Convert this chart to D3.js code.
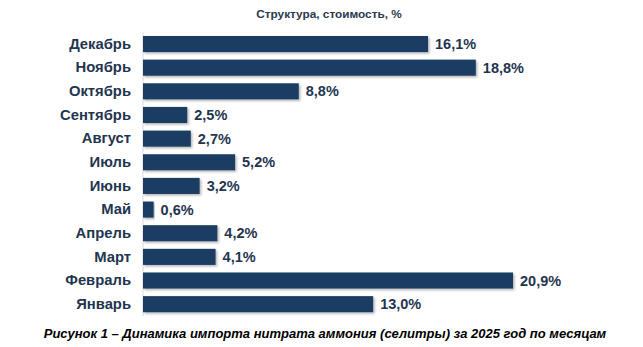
<!DOCTYPE html>
<html><head><meta charset="utf-8">
<script src="https://cdn.jsdelivr.net/npm/d3@7"></script>
<style>body{margin:0;background:#fff}svg{display:block}</style>
</head><body>
<script>
const months = ["Декабрь","Ноябрь","Октябрь","Сентябрь","Август","Июль","Июнь","Май","Апрель","Март","Февраль","Январь"];
const values = [16.1,18.8,8.8,2.5,2.7,5.2,3.2,0.6,4.2,4.1,20.9,13.0];
const title = "Структура, стоимость, %";
const caption = "Рисунок 1 – Динамика импорта нитрата аммония (селитры) за 2025 год по месяцам";

const W=643,H=347;
const svg=d3.select("body").append("svg").attr("width",W).attr("height",H);
const defs=svg.append("defs");
const f=defs.append("filter").attr("id","sh").attr("x","-5%").attr("y","-20%").attr("width","115%").attr("height","160%");
f.append("feDropShadow").attr("dx",1.5).attr("dy",1.5).attr("stdDeviation",1).attr("flood-color","#000").attr("flood-opacity",0.3);

const x=d3.scaleLinear().domain([0,20.9]).range([143,513]);
const y=d3.scaleBand().domain(months).range([32.2,316]).paddingInner(0.32).paddingOuter(0.16);

svg.append("text").attr("x",329).attr("y",18).attr("text-anchor","middle")
  .attr("font-family","Liberation Sans, Arial, sans-serif").attr("font-weight","bold").attr("font-size",11.8)
  .attr("fill","#2b3a4f").text(title);

svg.append("line").attr("x1",143).attr("x2",143).attr("y1",y.range()[0]).attr("y2",y.range()[1])
  .attr("stroke","#d9d9d9").attr("stroke-width",1);

const g=svg.append("g");
g.selectAll("rect").data(values).join("rect")
  .attr("x",x(0)).attr("y",(d,i)=>y(months[i])).attr("width",d=>x(d)-x(0)).attr("height",y.bandwidth())
  .attr("fill","#1b3d63").attr("filter","url(#sh)");

const yAxis=d3.axisLeft(y).tickSize(0).tickPadding(12);
const ax=svg.append("g").attr("transform","translate(143,0)").call(yAxis);
ax.select(".domain").remove();
ax.selectAll("text").attr("font-family","Liberation Sans, Arial, sans-serif").attr("font-weight","bold")
  .attr("font-size",14.8).attr("fill","#1f3550");

g.selectAll("text.v").data(values).join("text").attr("class","v")
  .attr("x",d=>x(d)+7).attr("y",(d,i)=>y(months[i])+y.bandwidth()/2).attr("dy","0.35em")
  .attr("font-family","Liberation Sans, Arial, sans-serif").attr("font-weight","bold").attr("font-size",14.5)
  .attr("fill","#1f3550").text(d=>d3.format(".1f")(d).replace(".",",")+"%");

svg.append("text").attr("x",325).attr("y",338).attr("text-anchor","middle")
  .attr("font-family","Liberation Sans, Arial, sans-serif").attr("font-weight","bold").attr("font-style","italic")
  .attr("font-size",13).attr("fill","#000").text(caption);
</script>
</body></html>
